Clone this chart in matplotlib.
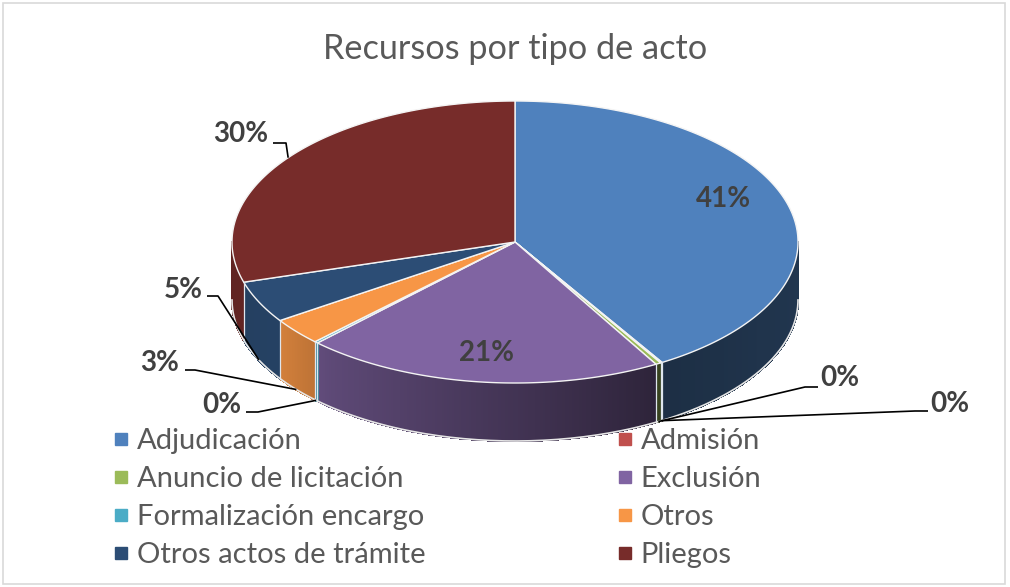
# Recursos por tipo de acto - pie 3D estilo Excel
import numpy as np
import matplotlib.pyplot as plt
from matplotlib.patches import Polygon, Rectangle
from matplotlib.collections import PolyCollection
from matplotlib.lines import Line2D
import matplotlib.colors as mcolors

plt.rcParams['font.family'] = ['Lato', 'DejaVu Sans']

# Datos
categories = ['Adjudicación', 'Admisión', 'Anuncio de licitación', 'Exclusión',
              'Formalización encargo', 'Otros', 'Otros actos de trámite', 'Pliegos']
values = [41.3, 0.1, 0.3, 20.6, 0.2, 3.1, 4.8, 29.6]
colors = ['#4F81BD', '#C0504D', '#9BBB59', '#8064A2',
          '#4BACC6', '#F79646', '#2C4D75', '#772C2A']
title = 'Recursos por tipo de acto'

# geometria del pie (en pixeles)
cx, cy, rx, ry, depth = 515, 242, 283, 141, 58

fig = plt.figure(figsize=(10.1, 5.87), dpi=100)
ax = fig.add_axes([0, 0, 1, 1])
ax.set_xlim(0, 1010)
ax.set_ylim(587, 0)
ax.axis('off')

frac = np.array(values) / sum(values)
ends = 90 - 360 * np.cumsum(frac)
starts = ends + 360 * frac


def rim(t, f=1.0):
    r = np.radians(t)
    return cx + f * rx * np.cos(r), cy - f * ry * np.sin(r)


def shade(t):
    t = t % 360
    return np.interp(t, [180, 215, 230, 300, 330, 360],
                     [0.8, 0.85, 0.73, 0.36, 0.40, 0.42])


# lados (frente)
quads, qcols = [], []
for s, e, c in zip(starts, ends, colors):
    base = np.array(mcolors.to_rgb(c))
    ts = np.linspace(e, s, max(int((s - e) / 0.5), 2) + 1)
    for t1, t2 in zip(ts[:-1], ts[1:]):
        tm = (t1 + t2) / 2
        if np.sin(np.radians(tm)) >= 0:
            continue
        x1, y1 = rim(t1)
        x2, y2 = rim(t2)
        quads.append([(x1, y1), (x2, y2), (x2, y2 + depth), (x1, y1 + depth)])
        qcols.append(np.clip(base * shade(tm), 0, 1))
ax.add_collection(PolyCollection(quads, facecolors=qcols, edgecolors=qcols,
                                 linewidths=1.0, antialiased=False))

# bordes verticales entre porciones
for t in ends:
    if np.sin(np.radians(t)) < 0:
        x, y = rim(t)
        ax.plot([x, x], [y, y + depth], color='#dfe6ee', lw=0.9)

# borde inferior
tb = np.linspace(180, 360, 200)
xb, yb = rim(tb)
ax.plot(xb, yb + depth, color='#e6e6e6', lw=1.2)

# caras superiores
for s, e, c in zip(starts, ends, colors):
    ts = np.linspace(s, e, max(int((s - e) * 2), 2))
    xs, ys = rim(ts)
    pts = np.column_stack([np.r_[cx, xs], np.r_[cy, ys]])
    ax.add_patch(Polygon(pts, closed=True, facecolor=c, edgecolor='#f4f4f4',
                         lw=1.0, joinstyle='round'))

# etiquetas internas
lab_kw = dict(fontsize=20, fontweight='bold', color='#404040',
              ha='center', va='center')
for i, f, dt in [(0, 0.80, 7), (3, 0.79, 0)]:
    tm = (starts[i] + ends[i]) / 2 + dt
    x, y = rim(tm, f)
    ax.text(x, y, '%.0f%%' % values[i], **lab_kw)

# etiquetas externas con lineas guia: (indice, texto x, texto y, codo, extremo)
outer = [
    (7, 241, 134, (286, 143), (273, 143)),
    (6, 183, 290, (218, 296), (207, 296)),
    (5, 160, 363, (195, 370), (185, 370)),
    (4, 222, 405, (258, 412), (246, 412)),
    (2, 840, 378, (805, 387), (818, 387)),
    (1, 950, 404, (915, 411), (928, 411)),
]
for i, tx, ty, elbow, end in outer:
    tm = (starts[i] + ends[i]) / 2
    ax_, ay_ = rim(tm)
    if np.sin(np.radians(tm)) < 0:
        ay_ += depth
    ax.plot([ax_, elbow[0], end[0]], [ay_, elbow[1], end[1]],
            color='black', lw=1.2, solid_capstyle='butt')
    ax.text(tx, ty, '%.0f%%' % values[i], **lab_kw)

# titulo
ax.text(515, 49, title, ha='center', va='center', fontsize=24.7, color='#595959')

# leyenda en dos columnas
handles = [Line2D([], [], marker='s', ls='', color=c, markersize=8) for c in colors]
leg_kw = dict(frameon=False, fontsize=21, labelcolor='#595959', handletextpad=0.15,
              labelspacing=0.41, handlelength=0.8, borderaxespad=0, borderpad=0,
              loc='upper left')
leg1 = ax.legend(handles[0::2], categories[0::2],
                 bbox_to_anchor=(109 / 1010, 1 - 428 / 587), **leg_kw)
ax.add_artist(leg1)
ax.legend(handles[1::2], categories[1::2],
          bbox_to_anchor=(613 / 1010, 1 - 428 / 587), **leg_kw)

# marco del grafico
ax.add_patch(Rectangle((3, 3), 1002, 581, fill=False, edgecolor='#d9d9d9', lw=1.2))

fig.savefig('out.png', dpi=100)
